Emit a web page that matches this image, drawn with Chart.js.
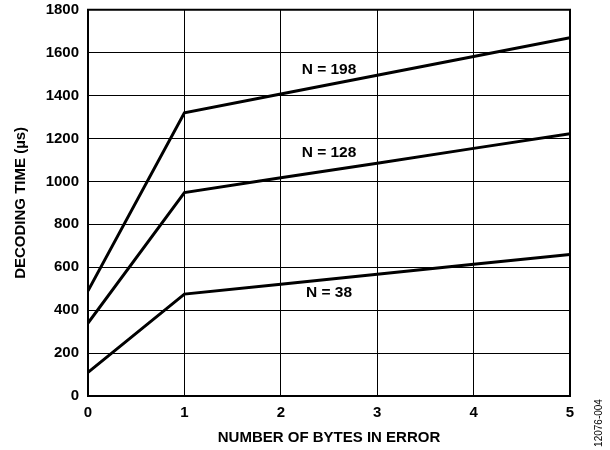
<!DOCTYPE html>
<html>
<head>
<meta charset="utf-8">
<script src="https://cdn.jsdelivr.net/npm/chart.js@4"></script>
<style>
html,body{margin:0;padding:0;background:#fff;}
#wrap{position:relative;width:610px;height:450px;}
</style>
</head>
<body>
<div id="wrap"><canvas id="c" width="610" height="450"></canvas></div>
<script>
const xValues = [0, 1, 2, 3, 4, 5];
const seriesN198 = [490, 1320, 1407, 1495, 1582, 1670];
const seriesN128 = [340, 948, 1017, 1085, 1154, 1222];
const seriesN38  = [110, 475, 521, 567, 614, 660];
const seriesNames = ['N = 198', 'N = 128', 'N = 38'];
const labelX = [2.5, 2.5, 2.5];
const labelY = [1520, 1133, 480];
const yTicks = [0, 200, 400, 600, 800, 1000, 1200, 1400, 1600, 1800];
const xTitle = 'NUMBER OF BYTES IN ERROR';
const yTitle = 'DECODING TIME (µs)';
const figureId = '12076-004';

const FONT = '"Liberation Sans", Arial, Helvetica, sans-serif';

function toPts(arr){ return xValues.map((x,i)=>({x:x,y:arr[i]})); }

const annotationPlugin = {
  id: 'annot',
  afterDatasetsDraw(chart){
    const ctx = chart.ctx;
    const xs = chart.scales.x, ys = chart.scales.y;
    ctx.save();
    ctx.fillStyle = '#000';
    ctx.font = 'bold 15.5px ' + FONT;
    ctx.textAlign = 'center';
    ctx.textBaseline = 'middle';
    seriesNames.forEach((t,i)=>{
      ctx.fillText(t, xs.getPixelForValue(labelX[i]), ys.getPixelForValue(labelY[i]));
    });
    ctx.restore();
  },
  afterDraw(chart){
    const ctx = chart.ctx;
    const a = chart.chartArea;
    ctx.save();
    ctx.strokeStyle = '#000';
    ctx.lineWidth = 2;
    ctx.strokeRect(a.left, a.top, a.right - a.left, a.bottom - a.top);
    ctx.translate(599, 423);
    ctx.rotate(-Math.PI/2);
    ctx.fillStyle = '#000';
    ctx.font = '10px ' + FONT;
    ctx.textAlign = 'center';
    ctx.textBaseline = 'middle';
    ctx.fillText(figureId, 0, 0);
    ctx.restore();
  }
};

new Chart(document.getElementById('c'), {
  type: 'line',
  data: {
    datasets: [
      {label: seriesNames[0], data: toPts(seriesN198)},
      {label: seriesNames[1], data: toPts(seriesN128)},
      {label: seriesNames[2], data: toPts(seriesN38)}
    ].map(d => Object.assign(d, {
      borderColor: '#000', borderWidth: 3, pointRadius: 0, tension: 0, fill: false,
      borderJoinStyle: 'miter', borderCapStyle: 'butt'
    }))
  },
  options: {
    responsive: false,
    animation: false,
    devicePixelRatio: 1,
    layout: {padding: {left: 0, top: 0, right: 40, bottom: 0}},
    plugins: {legend: {display: false}, tooltip: {enabled: false}},
    scales: {
      x: {
        type: 'linear', min: 0, max: 5,
        afterFit(s){ s.height = 54; },
        afterBuildTicks(s){ s.ticks = xValues.map(v=>({value:v})); },
        grid: {color: '#000', lineWidth: 1, drawTicks: false},
        border: {display: false},
        ticks: {color: '#000', padding: 8, font: {family: FONT, size: 15, weight: 'bold'}, maxRotation: 0,
          callback: v => String(v)},
        title: {display: true, text: xTitle, color: '#000', padding: {top: 0, bottom: 3},
          font: {family: FONT, size: 15, weight: 'bold'}}
      },
      y: {
        type: 'linear', min: 0, max: 1800,
        afterFit(s){ s.width = 88; },
        afterBuildTicks(s){ s.ticks = yTicks.map(v=>({value:v})); },
        grid: {color: '#000', lineWidth: 1, drawTicks: false},
        border: {display: false},
        ticks: {color: '#000', padding: 9, font: {family: FONT, size: 15, weight: 'bold', lineHeight: 0.1},
          callback: v => String(v)},
        title: {display: true, text: yTitle, color: '#000', padding: {top: 12, bottom: 0},
          font: {family: FONT, size: 15, weight: 'bold'}}
      }
    }
  },
  plugins: [annotationPlugin]
});
</script>
</body>
</html>
